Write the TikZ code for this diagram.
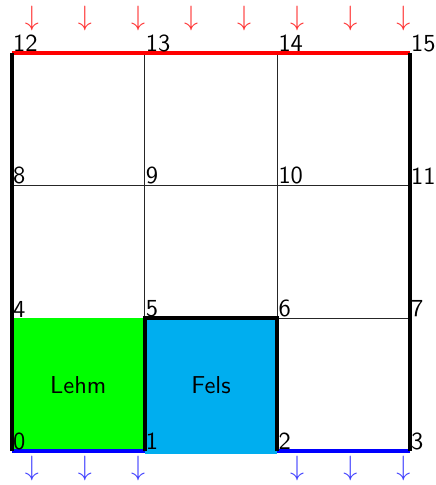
\documentclass[tikz,border=0pt]{standalone}
\definecolor{felsblau}{RGB}{0,174,239}
\begin{document}
\begin{tikzpicture}[scale=2,font=\sffamily\fontsize{10.5}{12}\selectfont]
        \useasboundingbox (-0.09,-0.256) rectangle (3.195,3.399);
        
        % Knoten
        \foreach \j in {0,...,3} {
            \foreach \i in {0,...,3} {
                \pgfmathtruncatemacro{\k}{4*\j+\i}
                \coordinate (v\k) at (\i,\j);
            }
        }
        
        \draw[line width=0.5pt, black!85] (v0) grid (v15);
        
        \fill[green] (v0) rectangle (v5);
        \fill[felsblau] ([yshift=-0.6pt]v1) rectangle (v6);
        
        % Raender
        \draw[red, line width=1.6pt] (v12) -- (v15);
        \draw[blue, line width=1.6pt] (v0) -- (v1);
        \draw[blue, line width=1.6pt] (v2) -- (v3);
        \draw[line width=1.6pt] (v0) -- (v12);
        \draw[line width=1.6pt] (v3) -- (v15);
        \draw[line width=1.6pt] (v1) -- (v5) -- (v6) -- (v2);
        
        \foreach \k in {0,...,15} {
            \node[anchor=south west, inner sep=0.3pt] (n\k) at (v\k) {\k};
        }
        
        \foreach \i in {0,...,7} {
            \node[red!80, font=\fontsize{12}{14}\selectfont] (q\i) at (0.15+0.4*\i,3.26) {$\downarrow$};
        }
        \foreach \i in {0,1,2,5,6,7} {
            \node[blue!75, font=\fontsize{12}{14}\selectfont] (s\i) at (0.15+0.4*\i,-0.13) {$\downarrow$};
        }
        
        \node (lehm) at (0.5,0.5) {Lehm};
        \node (fels) at (1.5,0.5) {Fels};
    \end{tikzpicture}
\end{document}
